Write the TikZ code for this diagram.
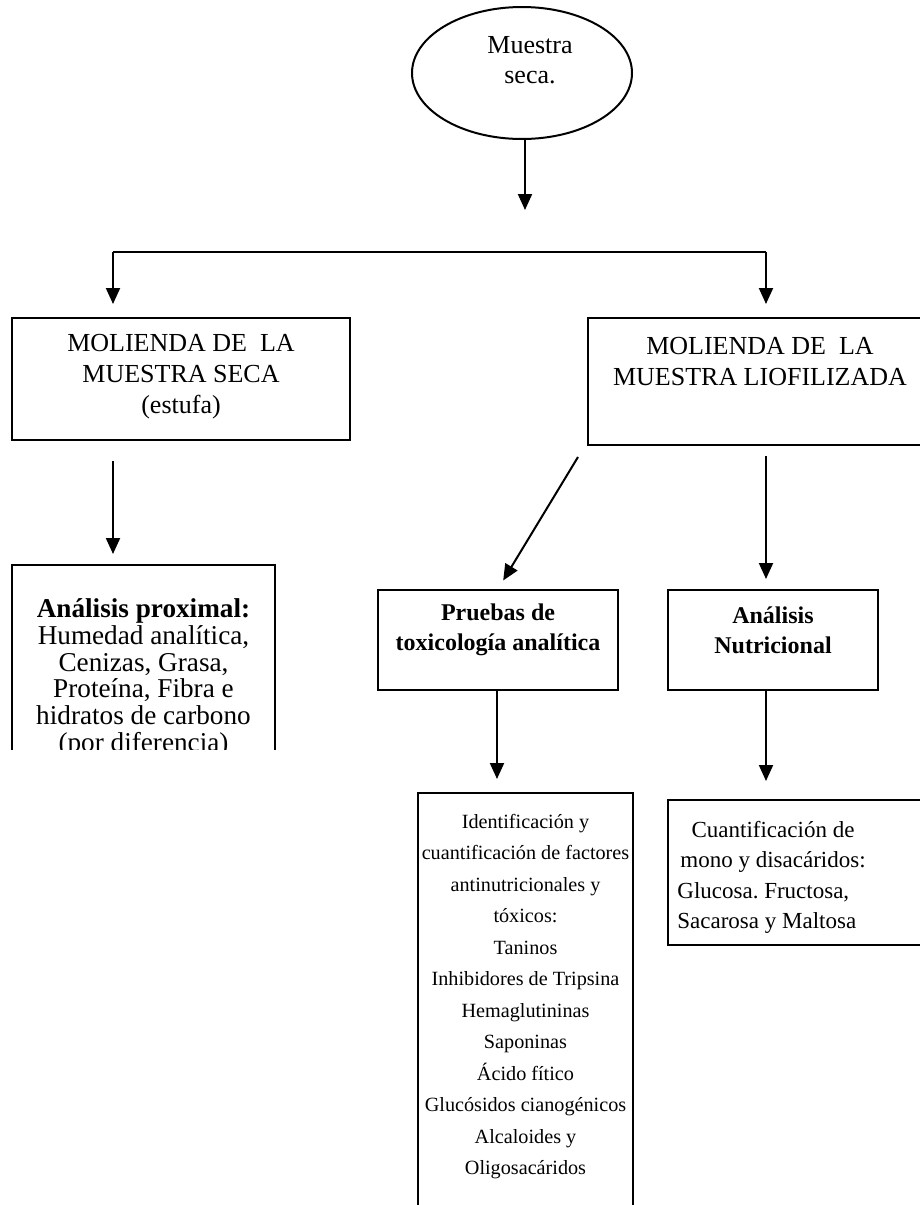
\documentclass[tikz,border=0pt]{standalone}
\usepackage{fontspec}
\setmainfont{Liberation Serif}
\usetikzlibrary{arrows.meta,shapes.geometric}

\tikzset{
  caja/.style={draw, line width=1pt, rectangle, inner sep=0pt},
  texto/.style={align=center, inner sep=0pt},
  flecha/.style={line width=1pt, -{Triangle[length=8pt,width=7pt]}},
}

\begin{document}
\begin{tikzpicture}[x=0.5pt,y=-0.5pt]
  \clip (0,0) rectangle (920,1205);
  % muestra de partida
  \node[draw, ellipse, line width=1pt, minimum width=110pt, minimum height=66pt, inner sep=0pt] (muestra) at (522,73) {};
  \node[texto, font=\fontsize{13}{15}\selectfont] (muestratxt) at (530,60) {Muestra\\seca.};
  \coordinate (fin) at (525,210);
  \draw[flecha] (muestra.south -| fin) -- (fin);

  % molienda
  \coordinate (ramaI) at (113,252);
  \coordinate (ramaD) at (766,252);
  \draw[line width=1pt] (ramaI) -- (ramaD);
  \node[caja, minimum width=169pt, minimum height=61pt] (seca) at (181,379) {};
  \node[texto, font=\fontsize{13}{15.5}\selectfont] (secatxt) at (181,377) {MOLIENDA DE\ \ LA\\MUESTRA SECA\\(estufa)};
  \node[caja, minimum width=172pt, minimum height=63.5pt] (liofi) at (760,381.5) {};
  \node[texto, font=\fontsize{13}{15.5}\selectfont] (liofitxt) at (760,362) {MOLIENDA DE\ \ LA\\MUESTRA LIOFILIZADA};
  \draw[flecha, shorten >=6.5pt] (ramaI) -- (seca.north -| ramaI);
  \draw[flecha, shorten >=6.5pt] (ramaD) -- (liofi.north -| ramaD);

  % analisis
  \begin{scope}
    \clip (0,0) rectangle (920,749);
    \node[caja, minimum width=131.5pt, minimum height=120pt] (proximal) at (143.5,685) {};
    \node[texto, font=\fontsize{13.6}{13.4}\selectfont] (proximaltxt) at (143.5,678)
      {\textbf{Análisis proximal:}\\Humedad analítica,\\Cenizas, Grasa,\\Proteína, Fibra e\\hidratos de carbono\\(por diferencia)};
  \end{scope}
  \node[caja, minimum width=120pt, minimum height=50pt] (pruebas) at (498,640) {};
  \node[texto, font=\fontsize{12}{15}\selectfont\bfseries] (pruebastxt) at (498,630) {Pruebas de\\toxicología analítica};
  \node[caja, minimum width=105pt, minimum height=50pt] (nutri) at (773,640) {};
  \node[texto, font=\fontsize{12}{15}\selectfont\bfseries] (nutritxt) at (773,630) {Análisis\\Nutricional};
  \draw[flecha, shorten <=10pt, shorten >=5pt] (seca.south -| ramaI) -- (proximal.north -| ramaI);
  \coordinate (diag) at (578,457);
  \draw[flecha, shorten >=5pt] (diag) -- (pruebas.north);
  \draw[flecha, shorten <=5pt, shorten >=5pt] (liofi.south -| ramaD) -- (nutri.north -| ramaD);

  % resultados
  \node[caja, minimum width=107.5pt, minimum height=220pt] (ident) at (525.5,1013) {};
  \node[texto, font=\fontsize{10.1}{15.75}\selectfont] (identtxt) at (525.5,996.5)
    {Identificación y\\cuantificación de factores\\antinutricionales y\\tóxicos:\\Taninos\\Inhibidores de Tripsina\\Hemaglutininas\\Saponinas\\Ácido fítico\\Glucósidos cianogénicos\\Alcaloides y\\Oligosacáridos};
  \node[caja, minimum width=133.5pt, minimum height=72.5pt] (cuant) at (801.5,872.5) {};
  \node[texto, font=\fontsize{11.5}{15}\selectfont] (cuanttxt) at (773,846.5) {Cuantificación de\\mono y disacáridos:};
  \node[texto, align=left, anchor=west, font=\fontsize{11.5}{15}\selectfont] (azucares) at (677,907.5) {Glucosa.\ Fructosa,\\Sacarosa y Maltosa};
  \draw[flecha, shorten >=6.5pt] (pruebas.south -| 497,0) -- (ident.north -| 497,0);
  \draw[flecha, shorten >=9pt] (nutri.south -| ramaD) -- (cuant.north -| ramaD);
\end{tikzpicture}
\end{document}
